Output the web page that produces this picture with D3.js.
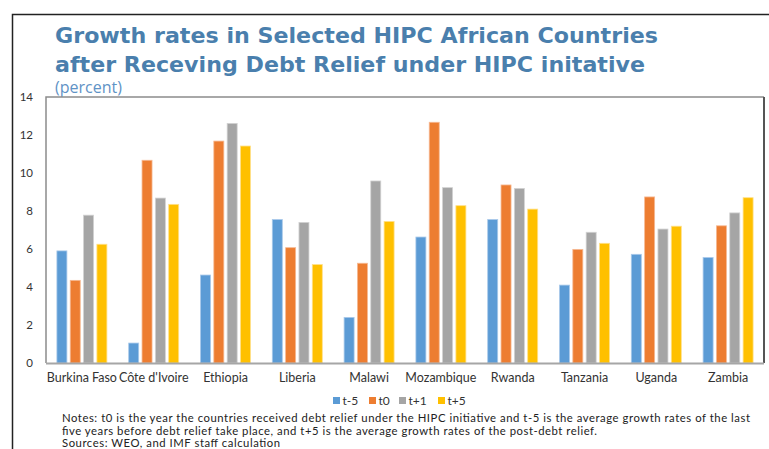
<!DOCTYPE html>
<html><head><meta charset="utf-8">
<script src="https://cdnjs.cloudflare.com/ajax/libs/d3/7.8.5/d3.min.js"></script>
<style>body{margin:0;background:#fff}svg{display:block}</style>
</head><body><svg id="c" width="769" height="449"></svg>
<script>
const countries = ["Burkina Faso","Côte d'Ivoire","Ethiopia","Liberia","Malawi","Mozambique","Rwanda","Tanzania","Uganda","Zambia"];
const seriesNames = ["t-5","t0","t+1","t+5"];
const tMinus5 = [5.9, 1.05, 4.63, 7.55, 2.4, 6.63, 7.55, 4.1, 5.72, 5.55];
const t0 =      [4.35, 10.67, 11.68, 6.07, 5.25, 12.67, 9.37, 5.98, 8.74, 7.22];
const tPlus1 =  [7.78, 8.68, 12.61, 7.4, 9.58, 9.23, 9.19, 6.88, 7.05, 7.9];
const tPlus5 =  [6.25, 8.35, 11.42, 5.18, 7.45, 8.28, 8.1, 6.3, 7.2, 8.7];
const yTicks = [0,2,4,6,8,10,12,14];
const colors = ["#5b9bd5","#ed7d31","#a5a5a5","#ffc000"];
const strokes = ["#a9c9ea","#f6b993","#d2d2d2","#ffe08a"];
const titleLines = ["Growth rates in Selected HIPC African Countries","after Receving Debt Relief under HIPC initative"];
const noteLines = ["Notes: t0 is the year the countries received debt relief under the HIPC initiative and t-5 is the average growth rates of the last",
"five years before debt relief take place, and t+5 is the average growth rates of the post-debt relief.",
"Sources: WEO, and IMF staff calculation"];

const allSeries = [tMinus5, t0, tPlus1, tPlus5];
const svg = d3.select("#c");
const L=46, R=764, T=97, B=363;
const FONT = "Lato, 'Open Sans', sans-serif";

// outer frame
svg.append("path").attr("d","M12.5,449 V14.5 H769").attr("fill","none").attr("stroke","#222").attr("stroke-width",1.5);

// title
const tw = [603, 590];
titleLines.forEach((t,i)=>{
  svg.append("text").attr("x",55).attr("y",43+i*29).text(t)
    .attr("font-family","'DejaVu Sans', Verdana, sans-serif").attr("font-weight","bold")
    .attr("font-size",21.5).attr("fill","#4a7fad")
    .attr("textLength",tw[i]).attr("lengthAdjust","spacingAndGlyphs");
});
svg.append("text").attr("x",55).attr("y",93).text("(percent)")
  .attr("font-family","'Open Sans', sans-serif").attr("font-size",16).attr("fill","#5f93c6");

const y = d3.scaleLinear().domain([0,14]).range([B,T]);
const x0 = d3.scaleBand().domain(countries).range([L,R]);
const x1 = d3.scaleBand().domain(seriesNames).range([0,50]).paddingInner(0.25);
const off = (x0.bandwidth()-50)/2;

// plot frame
svg.append("path").attr("d",`M${L},${B} V${T} H${R}`).attr("fill","none").attr("stroke","#8c8c8c").attr("stroke-width",1.5);
svg.append("line").attr("x1",R).attr("x2",R).attr("y1",T).attr("y2",B).attr("stroke","#555").attr("stroke-width",2);

// y axis
const ya = svg.append("g").attr("transform",`translate(${L},0)`).call(d3.axisLeft(y).tickValues(yTicks).tickSize(0).tickPadding(13));
ya.select(".domain").remove();
ya.selectAll("text").attr("font-family",FONT).attr("font-size",11.5).attr("fill","#333");

// bars
const g = svg.append("g");
countries.forEach((c,ci)=>{
  seriesNames.forEach((s,si)=>{
    const v = allSeries[si][ci];
    g.append("rect").attr("x",x0(c)+off+x1(s)).attr("width",x1.bandwidth())
      .attr("y",y(v)).attr("height",y(0)-y(v))
      .attr("fill",colors[si]).attr("stroke",strokes[si]).attr("stroke-width",0.8);
  });
});

// baseline
svg.append("line").attr("x1",L).attr("x2",R).attr("y1",B+0.5).attr("y2",B+0.5).attr("stroke","#a6a6a6").attr("stroke-width",2);

// x axis labels
const xa = svg.append("g").attr("transform",`translate(0,${B})`).call(d3.axisBottom(x0).tickSize(0).tickPadding(10));
xa.select(".domain").remove();
xa.selectAll("text").attr("font-family",FONT).attr("font-size",12.5).attr("fill","#333");

// legend
const legX = [333, 369, 399, 438];
seriesNames.forEach((s,i)=>{
  svg.append("rect").attr("x",legX[i]).attr("y",397).attr("width",7).attr("height",7).attr("fill",colors[i]);
  svg.append("text").attr("x",legX[i]+9.5).attr("y",405).text(s)
    .attr("font-family",FONT).attr("font-size",12).attr("fill","#333");
});

// notes
const noteW = [688, 535, 218];
noteLines.forEach((t,i)=>{
  svg.append("text").attr("x",62).attr("y",422+i*12.6).text(t)
    .attr("font-family",FONT).attr("font-size",11.3).attr("fill","#222")
    .attr("textLength",noteW[i]).attr("lengthAdjust","spacing");
});
</script></body></html>
